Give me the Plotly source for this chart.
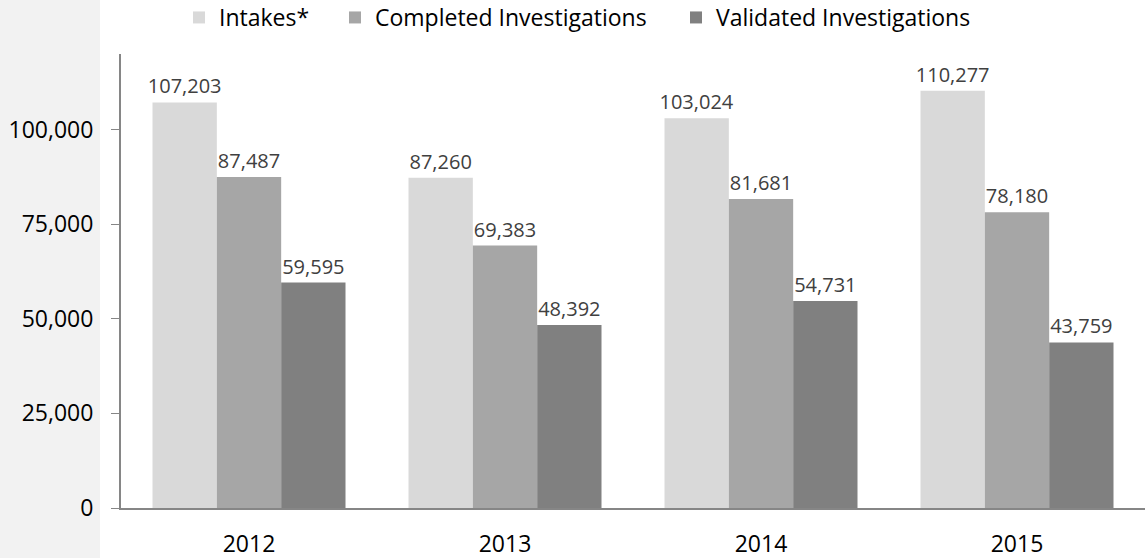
import plotly.graph_objects as go

years = ["2012", "2013", "2014", "2015"]
intakes = [107203, 87260, 103024, 110277]
completed = [87487, 69383, 81681, 78180]
validated = [59595, 48392, 54731, 43759]
series_names = ["Intakes*", "Completed Investigations", "Validated Investigations"]
colors = ["#d9d9d9", "#a6a6a6", "#808080"]
ytick_vals = [0, 25000, 50000, 75000, 100000]
ytick_text = ["0", "25,000", "50,000", "75,000", "100,000"]

W, H = 1145, 558
L, R, T, B = 121, 0, 54, 50
pw, ph = W - L - R, H - T - B

FONT = "Open Sans"
legend_px = [179, 335, 676]  # left pixel of each legend box
legend_keys = ["legend", "legend2", "legend3"]

fig = go.Figure()
for name, vals, col, lg in zip(series_names, [intakes, completed, validated], colors, legend_keys):
    fig.add_trace(go.Bar(
        x=years, y=vals, name=name, marker=dict(color=col, line=dict(width=0)),
        texttemplate="%{y:,}", textposition="outside", constraintext="none",
        textfont=dict(family=FONT, size=20, color="#404040"),
        cliponaxis=False, legend=lg,
    ))

fig.add_shape(type="rect", xref="paper", yref="paper",
              x0=-L / pw, x1=(100 - L) / pw, y0=-B / ph, y1=1 + T / ph,
              fillcolor="#f2f2f2", line=dict(width=0), layer="below")

leg_common = dict(orientation="h", xanchor="left", yanchor="top",
                  y=1 + (T + 4) / ph, bgcolor="rgba(0,0,0,0)",
                  font=dict(family=FONT, size=23, color="#000000"), itemwidth=30)

fig.update_layout(
    width=W, height=H,
    margin=dict(l=L, r=R, t=T, b=B, pad=0, autoexpand=False),
    paper_bgcolor="white", plot_bgcolor="white",
    barmode="group", bargap=0.246, bargroupgap=0,
    font=dict(family=FONT, size=23, color="#000000"),
    legend=dict(x=(legend_px[0] - L) / pw, **leg_common),
    legend2=dict(x=(legend_px[1] - L) / pw, **leg_common),
    legend3=dict(x=(legend_px[2] - L) / pw, **leg_common),
    showlegend=True,
)
fig.update_xaxes(showline=True, linecolor="#868686", linewidth=2, ticks="",
                 showgrid=False, ticklabelstandoff=14, automargin=False,
                 tickfont=dict(family=FONT, size=23, color="#000000"))
fig.update_yaxes(range=[0, 120000], tickvals=ytick_vals, ticktext=ytick_text,
                 showline=True, linecolor="#868686", linewidth=2,
                 ticks="outside", ticklen=8, tickcolor="#868686", tickwidth=1,
                 showgrid=False, zeroline=False, ticklabelstandoff=13, automargin=False,
                 tickfont=dict(family=FONT, size=23, color="#000000"))

fig.write_html("out.html", config={"displayModeBar": False},
               post_script="document.body.style.margin='0';")
